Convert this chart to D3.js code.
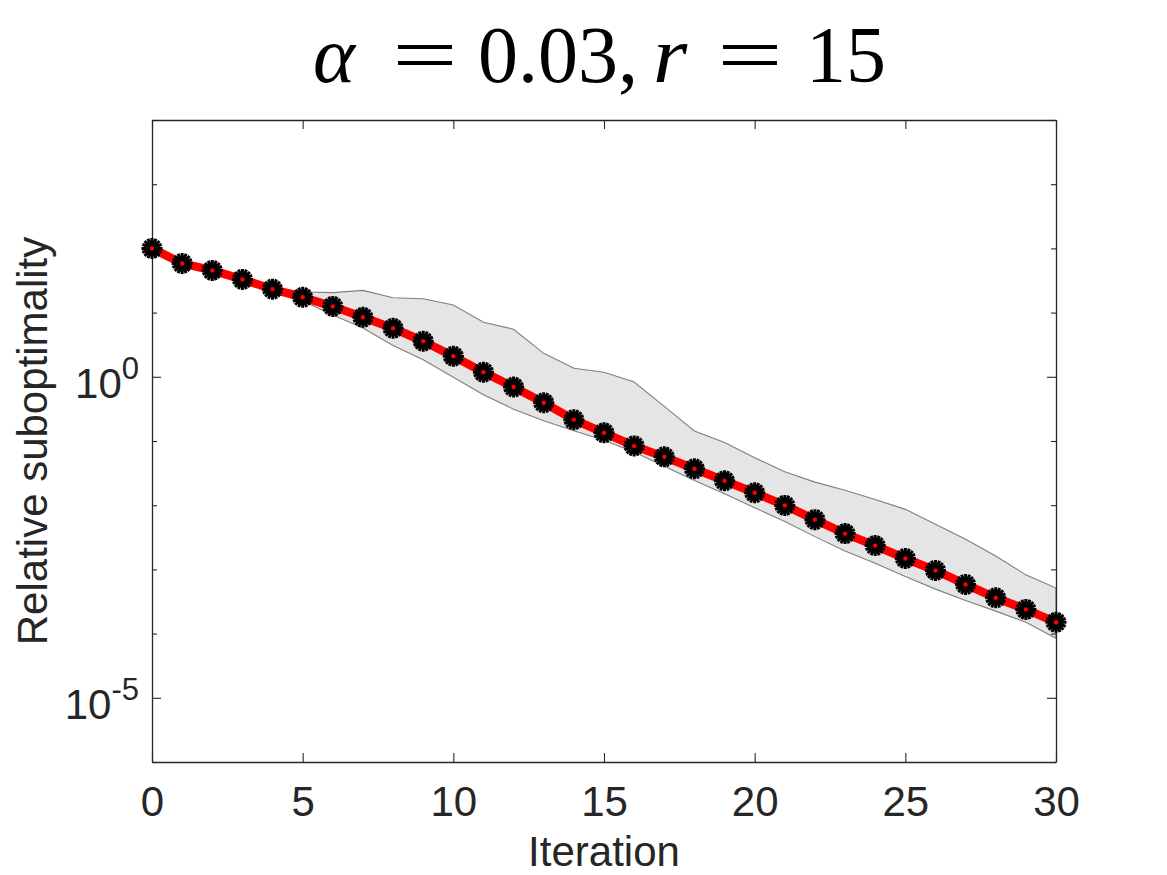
<!DOCTYPE html>
<html>
<head>
<meta charset="utf-8">
<script src="https://cdn.jsdelivr.net/npm/d3@7"></script>
<style>
  html, body { margin: 0; padding: 0; background: #fff; }
  svg { display: block; }
</style>
</head>
<body>
<div id="container"><svg></svg></div>
<script>
let width = 1167;
let height = 875;

// iterations 0..30
let iterations = d3.range(0, 31);

// median relative suboptimality (red line)
let median = [100, 58.3, 45.4, 32.9, 23.2, 17.3, 12.5, 8.45, 5.70, 3.58,
    2.09, 1.18, 0.692, 0.394, 0.215, 0.134, 0.0839, 0.0566, 0.0369, 0.0240,
    0.0156, 0.00993, 0.00596, 0.00361, 0.00235, 0.00148, 0.000962, 0.000583,
    0.000361, 0.000238, 0.000150];

// upper edge of the shaded band
let upper = [103, 60.0, 46.7, 33.9, 25.0, 20.9, 20.5, 22.2, 17.0, 16.4,
    13.1, 7.06, 5.51, 2.32, 1.36, 1.18, 0.828, 0.346, 0.143, 0.0944,
    0.0547, 0.0331, 0.0229, 0.0171, 0.0123, 0.00861, 0.00504, 0.00294,
    0.00162, 0.000822, 0.000511];

// lower edge of the shaded band
let lower = [96.2, 56.2, 43.8, 31.8, 21.3, 15.1, 9.18, 5.77, 3.08, 1.84,
    0.982, 0.525, 0.313, 0.207, 0.144, 0.103, 0.0673, 0.0405, 0.0243, 0.0151,
    0.00914, 0.00555, 0.00324, 0.00194, 0.00125, 0.000776, 0.000493, 0.000329,
    0.000224, 0.000150, 0.0000845];

let xTicks = [0, 5, 10, 15, 20, 25, 30];
let yTicks = [1e-6, 1e-5, 1e-4, 1e-3, 1e-2, 1e-1, 1e0, 1e1, 1e2, 1e3, 1e4];
let yLabelTicks = [{ v: 1e0, exp: "0" }, { v: 1e-5, exp: "-5" }];

// title pieces: text, italic, anchor, x, horizontal stretch
let titleParts = [
    { t: "α", it: true, anchor: "start", x: 313, sx: 1 },
    { t: "=", it: false, anchor: "middle", x: 425, sx: 1.45 },
    { t: "0.03,", it: false, anchor: "start", x: 478, sx: 1 },
    { t: "r", it: true, anchor: "start", x: 653, sx: 1.1 },
    { t: "=", it: false, anchor: "middle", x: 750, sx: 1.45 },
    { t: "15", it: false, anchor: "start", x: 806, sx: 1 }
];

let axisColor = "#262626";
let sansFont = "'Liberation Sans', Arial, Helvetica, sans-serif";

function draw_chart() {
    let svg = d3.select('#container')
        .select('svg')
        .attr('width', width)
        .attr('height', height);

    let left = 152, right = 1056, top = 120, bottom = 762;

    let x = d3.scaleLinear().domain([0, 30]).range([left, right]);
    let y = d3.scaleLog().domain([1e-6, 1e4]).range([bottom, top]);

    let band = iterations.map((d, i) => ({ it: d, lo: lower[i], hi: upper[i] }));
    let pts = iterations.map((d, i) => ({ it: d, v: median[i] }));

    // shaded band
    let area = d3.area()
        .x(d => x(d.it))
        .y0(d => y(d.lo))
        .y1(d => y(d.hi));

    svg.append("path")
        .datum(band)
        .attr("d", area)
        .attr("fill", "#e5e5e5")
        .attr("stroke", "#7f7f7f")
        .attr("stroke-width", 1.1);

    // axes (ticks pointing inside, box all round)
    let gx = svg.append("g")
        .attr("transform", `translate(0,${bottom})`)
        .call(d3.axisBottom(x).tickValues(xTicks).tickSizeInner(-9).tickSizeOuter(0).tickPadding(24));
    let gxTop = svg.append("g")
        .attr("transform", `translate(0,${top})`)
        .call(d3.axisTop(x).tickValues(xTicks).tickSizeInner(-9).tickSizeOuter(0).tickFormat(""));
    let gy = svg.append("g")
        .attr("transform", `translate(${left},0)`)
        .call(d3.axisLeft(y).tickValues(yTicks).tickSizeOuter(0).tickFormat(""));
    let gyRight = svg.append("g")
        .attr("transform", `translate(${right},0)`)
        .call(d3.axisRight(y).tickValues(yTicks).tickSizeOuter(0).tickFormat(""));

    let isMajor = v => yLabelTicks.some(t => Math.abs(Math.log10(t.v) - Math.log10(v)) < 1e-9);
    gy.selectAll(".tick line").attr("x2", d => isMajor(d) ? 9 : 5);
    gyRight.selectAll(".tick line").attr("x2", d => isMajor(d) ? -9 : -5);

    [gx, gxTop, gy, gyRight].forEach(g => {
        g.select(".domain").attr("stroke", axisColor).attr("stroke-width", 1.3);
        g.selectAll(".tick line").attr("stroke", axisColor).attr("stroke-width", 1.1);
    });

    gx.selectAll(".tick text")
        .attr("font-family", sansFont)
        .attr("font-size", 42)
        .attr("fill", axisColor)
        .attr("dy", "0.72em");
    gx.selectAll(".tick line").attr("y2", -9);

    // y tick labels with superscripts
    let yl = svg.append("g");
    yLabelTicks.forEach(t => {
        let txt = yl.append("text")
            .attr("x", 139)
            .attr("y", y(t.v) + 21)
            .attr("text-anchor", "end")
            .attr("font-family", sansFont)
            .attr("font-size", 42)
            .attr("fill", axisColor);
        txt.append("tspan").text("10");
        txt.append("tspan")
            .attr("font-size", 31)
            .attr("dy", -19)
            .text(t.exp);
    });

    // median line
    let line = d3.line()
        .x(d => x(d.it))
        .y(d => y(d.v));

    svg.append("path")
        .datum(pts)
        .attr("d", line)
        .attr("fill", "none")
        .attr("stroke", "#ff0000")
        .attr("stroke-width", 8.5)
        .attr("stroke-linejoin", "round");

    // asterisk markers
    let r = 10.5;
    let spokes = [0, 22.5, 45, 67.5, 90, 112.5, 135, 157.5].map(a => {
        let c = Math.cos(a * Math.PI / 180) * r, s = Math.sin(a * Math.PI / 180) * r;
        return `M${-c},${-s}L${c},${s}`;
    }).join("");

    let marker = svg.append("g")
        .selectAll("g")
        .data(pts)
        .join("g")
        .attr("transform", d => `translate(${x(d.it)},${y(d.v)})`);
    marker.append("path")
        .attr("d", spokes)
        .attr("stroke", "#000")
        .attr("stroke-width", 3)
        .attr("fill", "none");
    marker.append("circle")
        .attr("r", 7.5)
        .attr("fill", "#000");
    marker.append("circle")
        .attr("r", 2.2)
        .attr("fill", "#ff0000");

    // axis titles
    svg.append("text")
        .attr("x", (left + right) / 2)
        .attr("y", 866)
        .attr("text-anchor", "middle")
        .attr("font-family", sansFont)
        .attr("font-size", 42)
        .attr("fill", axisColor)
        .text("Iteration");

    svg.append("text")
        .attr("transform", `translate(47,${(top + bottom) / 2}) rotate(-90)`)
        .attr("text-anchor", "middle")
        .attr("font-family", sansFont)
        .attr("font-size", 42)
        .attr("fill", axisColor)
        .text("Relative suboptimality");

    // title (LaTeX-like)
    svg.append("g")
        .selectAll("text")
        .data(titleParts)
        .join("text")
        .attr("transform", d => `translate(${d.x},82) scale(${d.sx},1)`)
        .attr("text-anchor", d => d.anchor)
        .attr("font-family", "'Liberation Serif', 'DejaVu Serif', serif")
        .attr("font-size", 80)
        .attr("font-style", d => d.it ? "italic" : "normal")
        .attr("fill", "#000")
        .text(d => d.t);
}

draw_chart();
</script>
</body>
</html>
